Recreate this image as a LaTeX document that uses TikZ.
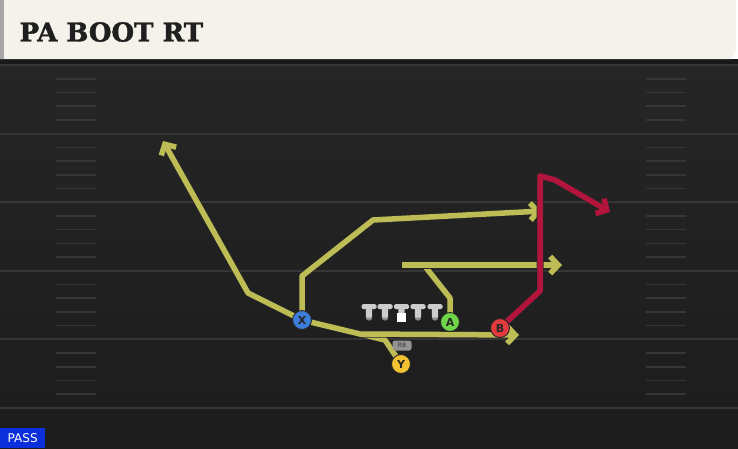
\documentclass[tikz,border=0pt]{standalone}
\usepackage{fontspec}
\setsansfont{DejaVu Sans}
\newfontfamily\titlefont{DejaVu Serif}[BoldFeatures={FakeBold=1.6}]
\usetikzlibrary{arrows.meta}
\definecolor{fieldcol}{HTML}{262626}
\definecolor{linecol}{HTML}{363636}
\definecolor{titlecol}{HTML}{F5F2EB}
\definecolor{routecol}{HTML}{BDBC55}
\definecolor{redcol}{HTML}{B2143C}
\definecolor{passcol}{HTML}{0B2FDB}
\definecolor{xcol}{HTML}{3C7DD8}
\definecolor{ycol}{HTML}{F2C232}
\definecolor{acol}{HTML}{6FD64A}
\definecolor{bcol}{HTML}{E23B3E}
\pgfdeclarelayer{field}
\pgfdeclarelayer{routes}
\pgfsetlayers{field,routes,main}

\begin{document}
\begin{tikzpicture}[x=1pt, y=-1pt,
    player/.style={circle, draw=black!85, line width=0.9pt, minimum size=19pt, inner sep=0pt,
      font=\sffamily\bfseries\fontsize{11}{11}\selectfont, text=black!85},
    route/.style={line width=5.5pt, line join=round, draw=routecol,
      -{Straight Barb[length=8pt, width=17pt]}, preaction={draw=black!85, line width=7pt}},
    redroute/.style={route, draw=redcol},
    yardline/.style={draw=linecol, line width=2pt},
    hashmark/.style={draw=linecol, line width=1.6pt},
    lineman/.pic={
      \fill[black!45] (0,13.5) circle (3.2);
      \fill[black!20, rounded corners=1pt] (-3.2,4) rectangle (3.2,13.5);
      \fill[black!20, rounded corners=1.5pt] (-7.5,0) rectangle (7.5,5);
    }]
  \useasboundingbox (0,0) rectangle (738,448);
  \begin{pgfonlayer}{field}
    % field
    \shade[top color=fieldcol, bottom color=black!89] (0,59) rectangle (738,448);
    \fill[black!90] (0,59) rectangle (738,64);
    \foreach \yl in {0,...,5} {
      \draw[yardline] (0,65+68.6*\yl) -- (738,65+68.6*\yl);
    }
    \foreach \yl in {0,...,4} {
      \foreach \h in {1,...,4} {
        \draw[hashmark] (56,65+68.6*\yl+13.7*\h) -- (96,65+68.6*\yl+13.7*\h);
        \draw[hashmark] (646,65+68.6*\yl+13.7*\h) -- (686,65+68.6*\yl+13.7*\h);
      }
    }
    % title bar
    \fill[titlecol] (0,0) -- (736,0) -- (736,50) -- (731,59) -- (0,59) -- cycle;
    \fill[black!35] (0,0) rectangle (4,59);
  \end{pgfonlayer}
  \node[anchor=west, text=black!88, font=\titlefont\bfseries\fontsize{26}{26}\selectfont] (title) at (16,32) {PA BOOT RT};
  \node[anchor=south west, fill=passcol, text=white, font=\sffamily\fontsize{12}{12}\selectfont,
    minimum width=45pt, minimum height=20pt, inner sep=0pt] (pass) at (0,448) {PASS};

  % line
  \foreach \lx in {369,385,401.5,418,435} {
    \pic at (\lx,304) {lineman};
  }
  \fill[white] (397,313) rectangle (406,322);
  \node[fill=black!42, rounded corners=2.5pt, inner sep=1pt, minimum width=19pt, minimum height=10pt,
    font=\sffamily\fontsize{6}{6}\selectfont, text=black!80] (rb) at (402,345.5) {RB};

  % players
  \node[player, fill=xcol] (X) at (302,320) {X};
  \node[player, fill=ycol] (Y) at (401,364) {Y};
  \node[player, fill=acol] (A) at (450,322) {A};
  \node[player, fill=bcol] (B) at (500,328) {B};

  % routes
  \coordinate (y1) at (385,340);
  \coordinate (y2) at (248,293);
  \coordinate (ytip) at (163,141);
  \coordinate (x1) at (302,276);
  \coordinate (x2) at (373,220);
  \coordinate (xtip) at (542,211);
  \coordinate (f1) at (362,334);
  \coordinate (ftip) at (519,335);
  \coordinate (a1) at (450,298);
  \coordinate (a2) at (424,265);
  \coordinate (a0) at (402,265);
  \coordinate (atip) at (562,265);
  \coordinate (b1) at (540,291);
  \coordinate (b2) at (540,176);
  \coordinate (b3) at (555,180);
  \coordinate (btip) at (610,212);
  \begin{pgfonlayer}{routes}
    \draw[route] (Y.center) -- (y1) -- (X.center) -- (y2) -- (ytip);
    \draw[route] (X.center) -- (x1) -- (x2) -- (xtip);
    \draw[route] (f1) -- (ftip);
    \draw[route, -] (A.center) -- (a1) -- (a2);
    \draw[route] (a0) -- (atip);
    \draw[redroute] (B.center) -- (b1) -- (b2) -- (b3) -- (btip);
  \end{pgfonlayer}
\end{tikzpicture}
\end{document}
